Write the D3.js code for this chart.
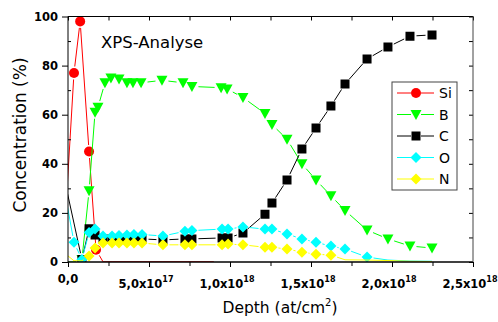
<!DOCTYPE html>
<html>
<head>
<meta charset="utf-8">
<script src="https://cdn.jsdelivr.net/npm/d3@7"></script>
<style>
body { margin: 0; background: #fff; }
</style>
</head>
<body>
<div id="graph"></div>
<script>
// depth in units of 1e18 at/cm2, concentration in %
var siDepth = [-0.01, 0.037, 0.075, 0.13, 0.173, 0.216, 0.272, 0.364, 0.457, 0.586, 0.722, 0.9];
var siConc  = [25, 77, 98, 45, 5, 0.1, 0.1, 0.1, 0.1, 0.1, 0.1, 0.1];

var bDepth = [-0.01, 0.037, 0.086, 0.13, 0.167, 0.185, 0.228, 0.265, 0.315, 0.364, 0.401, 0.451, 0.58, 0.71, 0.765,
              0.945, 0.982, 1.08, 1.216, 1.259, 1.352, 1.444, 1.531, 1.623, 1.71, 1.846, 1.975, 2.111, 2.247];
var bConc  = [0, 0, 1, 29, 61, 63, 73, 75, 74.5, 73, 73, 73, 74, 73, 71.5,
              71, 70.5, 67, 60.5, 56, 50, 40, 33.4, 27, 21, 13, 9.4, 6.5, 5.7];

var cDepth = [-0.01, 0.086, 0.13, 0.167, 0.216, 0.272, 0.315, 0.364, 0.407, 0.457, 0.586, 0.722, 0.765, 0.951, 0.988,
              1.08, 1.216, 1.259, 1.352, 1.444, 1.531, 1.623, 1.71, 1.846, 1.975, 2.111, 2.247];
var cConc  = [30, 1, 13.5, 11, 9.4, 9.4, 9.4, 9.4, 9.4, 9.4, 9, 9.4, 9.4, 9.8, 9.8,
              11.8, 19.5, 24, 33.4, 46, 54.6, 63.5, 72.5, 82.7, 87.6, 92, 92.5];

var oDepth = [-0.01, 0.037, 0.086, 0.13, 0.167, 0.216, 0.272, 0.315, 0.364, 0.407, 0.457, 0.586, 0.722, 0.765,
              0.951, 0.988, 1.08, 1.216, 1.259, 1.352, 1.444, 1.531, 1.623, 1.71, 1.846, 1.975, 2.111, 2.247];
var oConc  = [25, 8, 1, 12, 13.4, 10.6, 10.6, 10.8, 11, 11.2, 11.2, 10.6, 12.5, 12.8,
              13.4, 13.4, 14.3, 13.4, 13.4, 11.4, 9.4, 8, 6.5, 5.3, 2, 0.8, 0.4, 0.3];

var nDepth = oDepth;
var nConc  = [3, 0.5, 0.5, 2.4, 5.7, 7.7, 7.7, 7.7, 7.7, 7.7, 7.7, 7, 7, 7,
              7, 7.3, 7, 6, 6, 5.3, 4, 3.2, 2.8, 0.9, 0.8, 0.6, 0.3, 0.2];

var seriesNames  = ["Si", "B", "C", "O", "N"];
var seriesColors = ["#ff0000", "#00ff00", "#000000", "#00ffff", "#ffff00"];

var xMajor = [0, 0.5, 1, 1.5, 2, 2.5];
var xTickMant = ["0,0", "5,0", "1,0", "1,5", "2,0", "2,5"];
var xTickExp = ["", "17", "18", "18", "18", "18"];
var xMinor = [0.25, 0.75, 1.25, 1.75, 2.25];
var yMajor = [0, 20, 40, 60, 80, 100];
var yMinor = [10, 30, 50, 70, 90];

var font = "'DejaVu Sans', Arial, sans-serif";

var svg = d3.select("#graph").append("svg")
  .attr("width", 498).attr("height", 322)
  .style("font-family", font);

var x = d3.scaleLinear().domain([0, 2.5]).range([68, 473]);
var y = d3.scaleLinear().domain([0, 100]).range([262, 16.5]);

svg.append("clipPath").attr("id", "clip")
  .append("rect").attr("x", 68).attr("y", 16.5).attr("width", 405).attr("height", 245.5);

// symbol shapes, Origin style
function symPath(name) {
  if (name == "Si") return "M5,0A5,5 0 1,1 -5,0A5,5 0 1,1 5,0Z";
  if (name == "B") return "M-5.5,-4.5L5.5,-4.5L0,5.5Z";
  if (name == "C") return "M-4.5,-4.5H4.5V4.5H-4.5Z";
  return "M0,-5.5L5.5,0L0,5.5L-5.5,0Z";
}

function hasSym(d) { return d.x >= 0 && d.y >= 1; }

// line segments with a gap next to each symbol
function segs(pts, gap) {
  var out = [];
  for (var i = 1; i < pts.length; i++) {
    var a = pts[i - 1], b = pts[i];
    var x1 = x(a.x), y1 = y(a.y), x2 = x(b.x), y2 = y(b.y);
    var len = Math.sqrt((x2 - x1) * (x2 - x1) + (y2 - y1) * (y2 - y1));
    var g1 = hasSym(a) ? gap : 0, g2 = hasSym(b) ? gap : 0;
    if (len <= g1 + g2 + 0.5) continue;
    var ux = (x2 - x1) / len, uy = (y2 - y1) / len;
    out.push([x1 + ux * g1, y1 + uy * g1, x2 - ux * g2, y2 - uy * g2]);
  }
  return out;
}

var allDepth = [siDepth, bDepth, cDepth, oDepth, nDepth];
var allConc = [siConc, bConc, cConc, oConc, nConc];

var plot = svg.append("g").attr("clip-path", "url(#clip)");

seriesNames.forEach(function(name, k) {
  var pts = allDepth[k].map(function(d, i) { return {x: d, y: allConc[k][i]}; });
  var g = plot.append("g");
  g.selectAll("line").data(segs(pts, 6.5)).enter().append("line")
    .attr("x1", function(s) { return s[0]; }).attr("y1", function(s) { return s[1]; })
    .attr("x2", function(s) { return s[2]; }).attr("y2", function(s) { return s[3]; })
    .attr("stroke", seriesColors[k]).attr("stroke-width", 1);
  g.selectAll("path").data(pts.filter(hasSym)).enter().append("path")
    .attr("d", symPath(name))
    .attr("transform", function(d) { return "translate(" + x(d.x) + "," + y(d.y) + ")"; })
    .attr("fill", seriesColors[k]);
});

// axes
function styleAxis(g) {
  g.selectAll("path.domain").remove();
  g.selectAll("line").attr("stroke", "#000");
}

svg.append("g").attr("transform", "translate(0,262)")
  .call(d3.axisBottom(x).tickValues(xMajor).tickSize(5).tickFormat(""))
  .call(styleAxis);
svg.append("g").attr("transform", "translate(0,262)")
  .call(d3.axisBottom(x).tickValues(xMinor).tickSize(4).tickFormat(""))
  .call(styleAxis);
svg.append("g").attr("transform", "translate(0,16.5)")
  .call(d3.axisBottom(x).tickValues(xMajor.concat(xMinor)).tickSize(4).tickFormat(""))
  .call(styleAxis);

svg.append("g").attr("transform", "translate(68,0)")
  .call(d3.axisLeft(y).tickValues(yMajor).tickSize(6).tickPadding(4))
  .call(styleAxis)
  .selectAll("text")
  .attr("font-family", font).attr("font-size", 11.5).attr("font-weight", "bold").attr("fill", "#000");
svg.append("g").attr("transform", "translate(68,0)")
  .call(d3.axisRight(y).tickValues(yMinor).tickSize(3).tickFormat(""))
  .call(styleAxis);
svg.append("g").attr("transform", "translate(473,0)")
  .call(d3.axisLeft(y).tickValues(yMajor.concat(yMinor)).tickSize(4).tickFormat(""))
  .call(styleAxis);

// frame
svg.append("line").attr("x1", 68).attr("x2", 473).attr("y1", 262).attr("y2", 262).attr("stroke", "#000").attr("stroke-width", 1.3);
svg.append("line").attr("x1", 68).attr("x2", 473).attr("y1", 16.5).attr("y2", 16.5).attr("stroke", "#000");
svg.append("line").attr("x1", 68).attr("x2", 68).attr("y1", 16.5).attr("y2", 262).attr("stroke", "#000");
svg.append("line").attr("x1", 473).attr("x2", 473).attr("y1", 16.5).attr("y2", 262).attr("stroke", "#444");

// x tick labels with exponents
var xl = svg.selectAll("text.xtl").data(xMajor).enter().append("text")
  .attr("class", "xtl")
  .attr("x", function(d, i) { return xTickExp[i] ? x(d) - 3 : x(d); })
  .attr("y", function(d, i) { return xTickExp[i] ? 288 : 283; })
  .attr("text-anchor", "middle")
  .attr("font-size", 11.5).attr("font-weight", "bold");
xl.append("tspan").text(function(d, i) { return xTickMant[i] + (xTickExp[i] ? "x10" : ""); });
xl.append("tspan").attr("dy", -6).attr("font-size", 8)
  .text(function(d, i) { return xTickExp[i]; });

// titles
svg.append("text").attr("x", 101).attr("y", 48).attr("font-size", 16.5).text("XPS-Analyse");

var xt = svg.append("text").attr("x", 280).attr("y", 313).attr("text-anchor", "middle").attr("font-size", 15.5);
xt.append("tspan").text("Depth (at/cm");
xt.append("tspan").attr("dy", -7).attr("font-size", 10).text("2");
xt.append("tspan").attr("dy", 7).text(")");

svg.append("text").attr("transform", "translate(26,135) rotate(-90)")
  .attr("text-anchor", "middle").attr("font-size", 17).text("Concentration (%)");

// legend
var leg = svg.append("g").attr("transform", "translate(392,82)");
leg.append("rect").attr("width", 65).attr("height", 108)
  .attr("fill", "#fff").attr("stroke", "#444").attr("stroke-width", 1);
seriesNames.forEach(function(name, k) {
  var ly = 11 + k * 21.5;
  leg.append("line").attr("x1", 5).attr("x2", 19).attr("y1", ly).attr("y2", ly).attr("stroke", seriesColors[k]);
  leg.append("line").attr("x1", 29).attr("x2", 42).attr("y1", ly).attr("y2", ly).attr("stroke", seriesColors[k]);
  leg.append("path").attr("d", symPath(name)).attr("transform", "translate(24," + ly + ")").attr("fill", seriesColors[k]);
  leg.append("text").attr("x", 47).attr("y", ly + 5).attr("font-size", 14).text(name);
});
</script>
</body>
</html>
